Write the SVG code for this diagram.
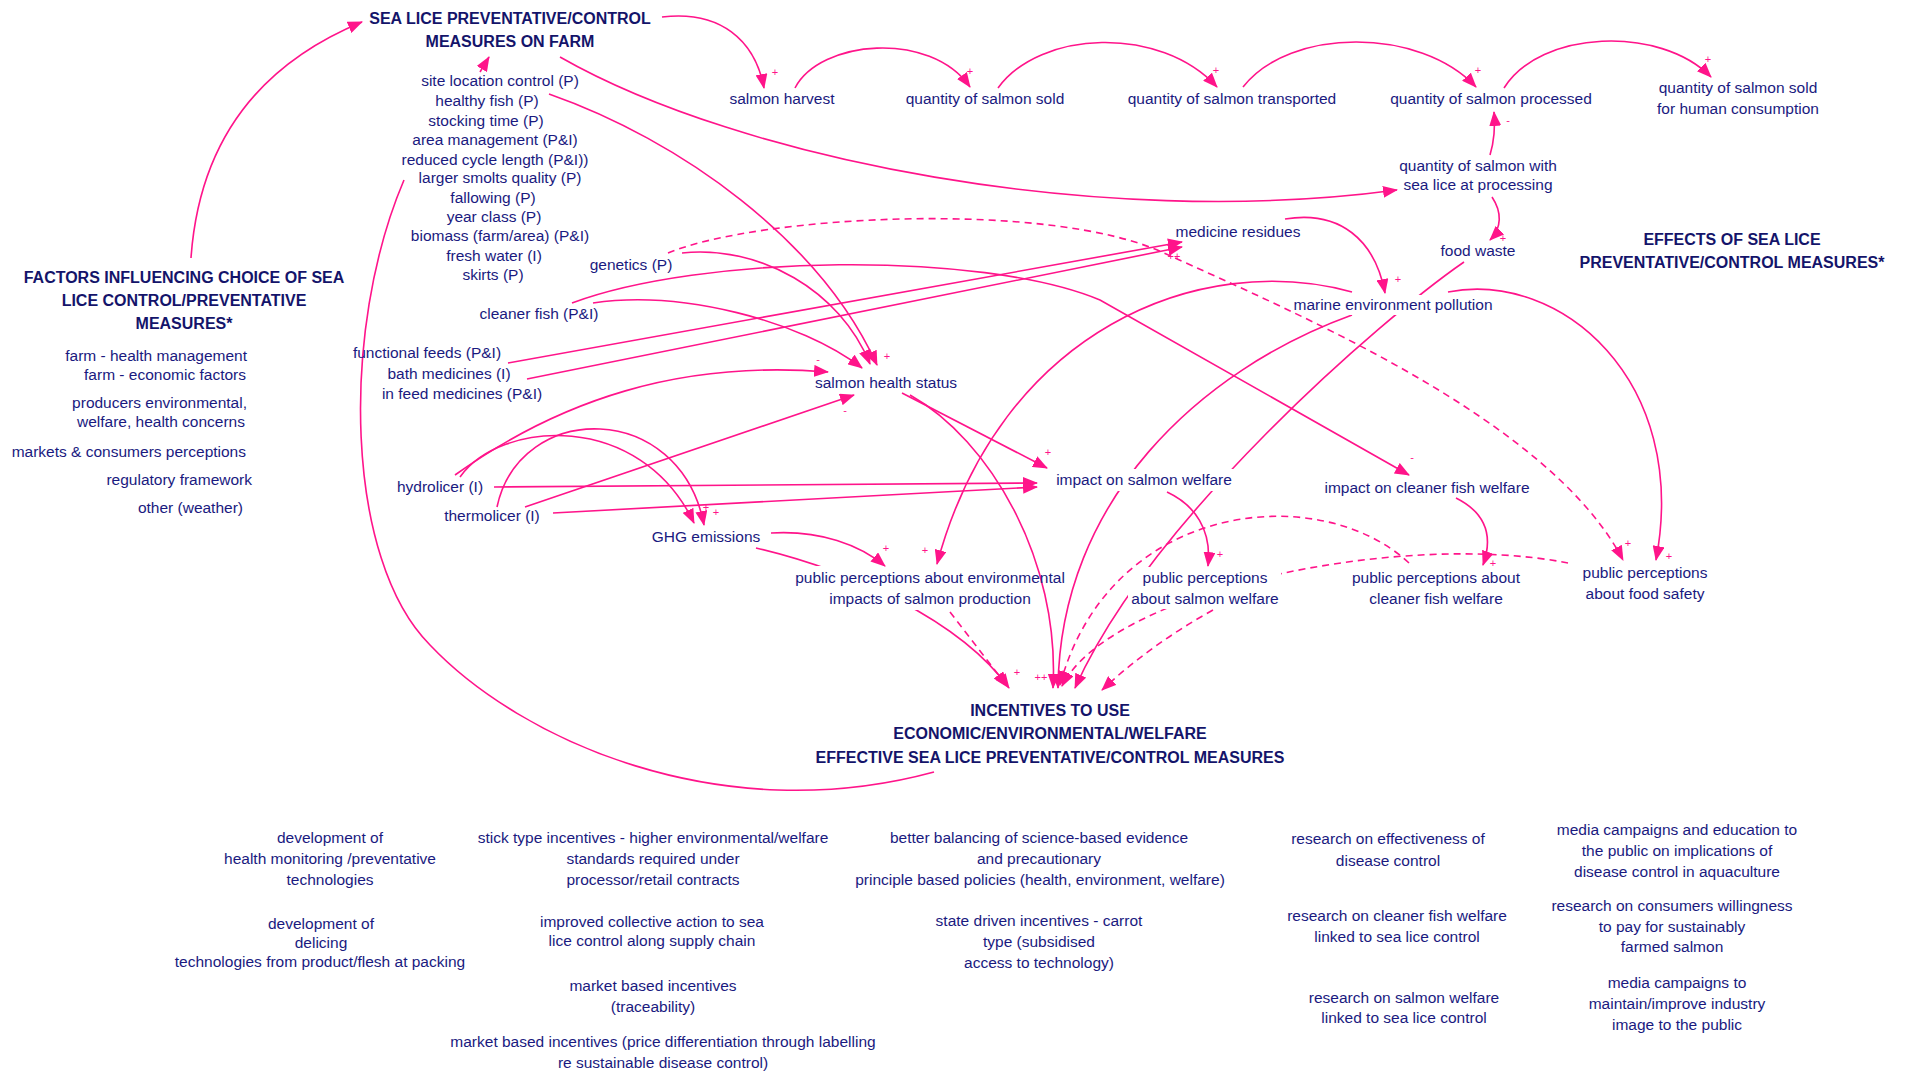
<svg xmlns="http://www.w3.org/2000/svg" width="1910" height="1073" viewBox="0 0 1910 1073">
<style>
.n{font-family:"Liberation Sans",Arial,sans-serif;font-size:15.5px;fill:#1A1A80;text-anchor:middle}
.h{font-weight:bold;font-size:16px;fill:#14146A}
.r{text-anchor:end}
.c{fill:none;stroke:#FF148A;stroke-width:1.6}
.a{marker-end:url(#ah)}
.d{stroke-dasharray:7 5}
.p{font-family:"Liberation Sans",Arial,sans-serif;font-size:11px;fill:#FF148A;text-anchor:middle}
</style>
<defs>
<marker id="ah" viewBox="0 0 15 12" refX="14" refY="6" markerWidth="15" markerHeight="12" orient="auto" markerUnits="userSpaceOnUse">
<path d="M0,0 L15,6 L0,12 z" fill="#FF148A"/>
</marker>
<mask id="m1" maskUnits="userSpaceOnUse" x="0" y="0" width="1910" height="1073">
<rect x="0" y="0" width="1910" height="1073" fill="#fff"/>
<rect x="1289" y="295" width="208" height="20" fill="#000"/>
<rect x="1052" y="469" width="183" height="22" fill="#000"/>
<rect x="1128" y="567" width="153" height="42" fill="#000"/>
<rect x="791" y="566" width="220" height="44" fill="#000"/>
</mask>
</defs>
<rect width="1910" height="1073" fill="#fff"/>

<g id="connectors">
<path class="c a" d="M191,258 C200,130 270,60 362,22"/>
<path class="c a" d="M480,72 L489,57"/>
<path class="c a" d="M662,17 C720,10 755,40 764,88"/>
<path class="c a" d="M795,88 C820,40 930,30 970,87"/>
<path class="c a" d="M998,88 C1040,30 1160,25 1217,87"/>
<path class="c a" d="M1243,87 C1290,27 1420,27 1476,87"/>
<path class="c a" d="M1504,88 C1540,30 1660,25 1711,77"/>
<path class="c a" d="M1490,155 Q1496,135 1494,112"/>
<path class="c a" d="M1492,197 C1502,212 1502,228 1490,240"/>
<path class="c a" d="M1285,219 C1340,210 1375,240 1385,293"/>
<path class="c a" d="M560,57 C740,160 1100,230 1397,190"/>
<path class="c a" d="M549,94 C680,140 820,240 877,365"/>
<path class="c a" d="M682,253 C760,245 840,290 870,364"/>
<path class="c a" d="M593,303 C680,290 800,320 862,368"/>
<path class="c a" d="M572,303 C700,255 980,250 1100,300 C1200,357 1300,414 1409,475"/>
<path class="c a" d="M508,363 L1182,242"/>
<path class="c a" d="M527,379 L1182,247"/>
<path class="c d a" d="M668,253 C760,215 1050,200 1164,253 C1300,315 1550,420 1623,560"/>
<path class="c a" d="M455,475 C560,400 680,360 828,372"/>
<path class="c a" d="M525,507 L854,395"/>
<path class="c a" d="M460,477 C500,420 640,410 694,523"/>
<path class="c a" d="M497,507 C520,400 680,400 704,525"/>
<path class="c a" d="M494,487 L1037,483"/>
<path class="c a" d="M553,513 L1037,487"/>
<path class="c a" d="M902,393 L1047,468"/>
<path class="c a" d="M910,395 C990,440 1060,560 1053,688"/>
<path class="c a" d="M771,533 C820,530 860,545 885,566"/>
<path class="c a" d="M756,548 C850,570 960,620 1009,688" mask="url(#m1)"/>
<path class="c a" d="M1352,292 C1200,250 1000,330 937,564"/>
<path class="c a" d="M1352,315 C1200,370 1060,500 1058,688" mask="url(#m1)"/>
<path class="c a" d="M1464,262 C1380,320 1150,520 1075,688" mask="url(#m1)"/>
<path class="c a" d="M1167,492 C1195,505 1212,530 1208,566"/>
<path class="c a" d="M1456,498 C1490,515 1492,540 1483,565"/>
<path class="c a" d="M1448,292 C1560,270 1690,380 1656,560"/>
<path class="c d a" d="M950,612 L1007,686"/>
<path class="c d a" d="M1213,610 Q1150,645 1102,690"/>
<path class="c d a" d="M1409,563 C1320,480 1110,500 1060,685"/>
<path class="c d a" d="M1568,563 C1400,530 1110,590 1062,686" mask="url(#m1)"/>
<path class="c" d="M934,772 C720,830 520,740 430,645 C345,560 340,330 404,180"/>
</g>

<g id="polarity">
<text class="p" x="775" y="76">+</text>
<text class="p" x="970" y="75">+</text>
<text class="p" x="1216" y="74">+</text>
<text class="p" x="1478" y="74">+</text>
<text class="p" x="1708" y="63">+</text>
<text class="p" x="1508" y="124">-</text>
<text class="p" x="1503" y="242">+</text>
<text class="p" x="1398" y="283">+</text>
<text class="p" x="1174" y="260">++</text>
<text class="p" x="867" y="357">+</text>
<text class="p" x="887" y="360">+</text>
<text class="p" x="818" y="363">-</text>
<text class="p" x="845" y="414">-</text>
<text class="p" x="706" y="511">+</text>
<text class="p" x="716" y="516">+</text>
<text class="p" x="1048" y="456">+</text>
<text class="p" x="1412" y="461">-</text>
<text class="p" x="886" y="552">+</text>
<text class="p" x="925" y="554">+</text>
<text class="p" x="1220" y="558">+</text>
<text class="p" x="1493" y="567">+</text>
<text class="p" x="1628" y="547">+</text>
<text class="p" x="1669" y="560">+</text>
<text class="p" x="1017" y="676">+</text>
<text class="p" x="1041" y="681">++</text>
<text class="p" x="1063" y="677">+</text>
</g>

<g id="title-measures">
<text class="n h" x="510" y="24">SEA LICE PREVENTATIVE/CONTROL</text>
<text class="n h" x="510" y="47">MEASURES ON FARM</text>
</g>
<g id="measures-list">
<text class="n" x="500" y="86">site location control (P)</text>
<text class="n" x="487" y="106">healthy fish (P)</text>
<text class="n" x="486" y="126">stocking time (P)</text>
<text class="n" x="495" y="145">area management (P&amp;I)</text>
<text class="n" x="495" y="165">reduced cycle length (P&amp;I))</text>
<text class="n" x="500" y="183">larger smolts quality (P)</text>
<text class="n" x="493" y="203">fallowing (P)</text>
<text class="n" x="494" y="222">year class (P)</text>
<text class="n" x="500" y="241">biomass (farm/area) (P&amp;I)</text>
<text class="n" x="494" y="261">fresh water (I)</text>
<text class="n" x="493" y="280">skirts (P)</text>
</g>
<g id="genetics"><text class="n" x="631" y="270">genetics (P)</text></g>
<g id="cleaner-fish"><text class="n" x="539" y="319">cleaner fish (P&amp;I)</text></g>
<g id="functional-feeds"><text class="n" x="427" y="358">functional feeds (P&amp;I)</text></g>
<g id="bath-medicines"><text class="n" x="449" y="379">bath medicines (I)</text></g>
<g id="in-feed-medicines"><text class="n" x="462" y="399">in feed medicines (P&amp;I)</text></g>
<g id="hydrolicer"><text class="n" x="440" y="492">hydrolicer (I)</text></g>
<g id="thermolicer"><text class="n" x="492" y="521">thermolicer (I)</text></g>
<g id="ghg"><text class="n" x="706" y="542">GHG emissions</text></g>
<g id="salmon-health"><text class="n" x="886" y="388">salmon health status</text></g>
<g id="salmon-harvest"><text class="n" x="782" y="104">salmon harvest</text></g>
<g id="qty-sold"><text class="n" x="985" y="104">quantity of salmon sold</text></g>
<g id="qty-transported"><text class="n" x="1232" y="104">quantity of salmon transported</text></g>
<g id="qty-processed"><text class="n" x="1491" y="104">quantity of salmon processed</text></g>
<g id="qty-human"><text class="n" x="1738" y="93">quantity of salmon sold</text><text class="n" x="1738" y="114">for human consumption</text></g>
<g id="qty-sealice"><text class="n" x="1478" y="171">quantity of salmon with</text><text class="n" x="1478" y="190">sea lice at processing</text></g>
<g id="medicine-residues"><text class="n" x="1238" y="237">medicine residues</text></g>
<g id="food-waste"><text class="n" x="1478" y="256">food waste</text></g>
<g id="effects-header"><text class="n h" x="1732" y="245">EFFECTS OF SEA LICE</text><text class="n h" x="1732" y="268">PREVENTATIVE/CONTROL MEASURES*</text></g>
<g id="marine-pollution"><text class="n" x="1393" y="310">marine environment pollution</text></g>
<g id="impact-salmon"><text class="n" x="1144" y="485">impact on salmon welfare</text></g>
<g id="impact-cleaner"><text class="n" x="1427" y="493">impact on cleaner fish welfare</text></g>
<g id="pp-env"><text class="n" x="930" y="583">public perceptions about environmental</text><text class="n" x="930" y="604">impacts of salmon production</text></g>
<g id="pp-salmon"><text class="n" x="1205" y="583">public perceptions</text><text class="n" x="1205" y="604">about salmon welfare</text></g>
<g id="pp-cleaner"><text class="n" x="1436" y="583">public perceptions about</text><text class="n" x="1436" y="604">cleaner fish welfare</text></g>
<g id="pp-food"><text class="n" x="1645" y="578">public perceptions</text><text class="n" x="1645" y="599">about food safety</text></g>
<g id="incentives">
<text class="n h" x="1050" y="716">INCENTIVES TO USE</text>
<text class="n h" x="1050" y="739">ECONOMIC/ENVIRONMENTAL/WELFARE</text>
<text class="n h" x="1050" y="763">EFFECTIVE SEA LICE PREVENTATIVE/CONTROL MEASURES</text>
</g>
<g id="factors">
<text class="n h" x="184" y="283">FACTORS INFLUENCING CHOICE OF SEA</text>
<text class="n h" x="184" y="306">LICE CONTROL/PREVENTATIVE</text>
<text class="n h" x="184" y="329">MEASURES*</text>
<text class="n r" x="247" y="361">farm - health management</text>
<text class="n r" x="246" y="380">farm - economic factors</text>
<text class="n r" x="247" y="408">producers environmental,</text>
<text class="n r" x="245" y="427">welfare, health concerns</text>
<text class="n r" x="246" y="457">markets &amp; consumers perceptions</text>
<text class="n r" x="252" y="485">regulatory framework</text>
<text class="n r" x="243" y="513">other (weather)</text>
</g>
<g id="bottom-col1">
<text class="n" x="330" y="843">development of</text>
<text class="n" x="330" y="864">health monitoring /preventative</text>
<text class="n" x="330" y="885">technologies</text>
<text class="n" x="321" y="929">development of</text>
<text class="n" x="321" y="948">delicing</text>
<text class="n" x="320" y="967">technologies from product/flesh at packing</text>
</g>
<g id="bottom-col2">
<text class="n" x="653" y="843">stick type incentives - higher environmental/welfare</text>
<text class="n" x="653" y="864">standards required under</text>
<text class="n" x="653" y="885">processor/retail contracts</text>
<text class="n" x="652" y="927">improved collective action to sea</text>
<text class="n" x="652" y="946">lice control along supply chain</text>
<text class="n" x="653" y="991">market based incentives</text>
<text class="n" x="653" y="1012">(traceability)</text>
<text class="n" x="663" y="1047">market based incentives (price differentiation through labelling</text>
<text class="n" x="663" y="1068">re sustainable disease control)</text>
</g>
<g id="bottom-col3">
<text class="n" x="1039" y="843">better balancing of science-based evidence</text>
<text class="n" x="1039" y="864">and precautionary</text>
<text class="n" x="1040" y="885">principle based policies (health, environment, welfare)</text>
<text class="n" x="1039" y="926">state driven incentives - carrot</text>
<text class="n" x="1039" y="947">type (subsidised</text>
<text class="n" x="1039" y="968">access to technology)</text>
</g>
<g id="bottom-col4">
<text class="n" x="1388" y="844">research on effectiveness of</text>
<text class="n" x="1388" y="866">disease control</text>
<text class="n" x="1397" y="921">research on cleaner fish welfare</text>
<text class="n" x="1397" y="942">linked to sea lice control</text>
<text class="n" x="1404" y="1003">research on salmon welfare</text>
<text class="n" x="1404" y="1023">linked to sea lice control</text>
</g>
<g id="bottom-col5">
<text class="n" x="1677" y="835">media campaigns and education to</text>
<text class="n" x="1677" y="856">the public on implications of</text>
<text class="n" x="1677" y="877">disease control in aquaculture</text>
<text class="n" x="1672" y="911">research on consumers willingness</text>
<text class="n" x="1672" y="932">to pay for sustainably</text>
<text class="n" x="1672" y="952">farmed salmon</text>
<text class="n" x="1677" y="988">media campaigns to</text>
<text class="n" x="1677" y="1009">maintain/improve industry</text>
<text class="n" x="1677" y="1030">image to the public</text>
</g>
</svg>
